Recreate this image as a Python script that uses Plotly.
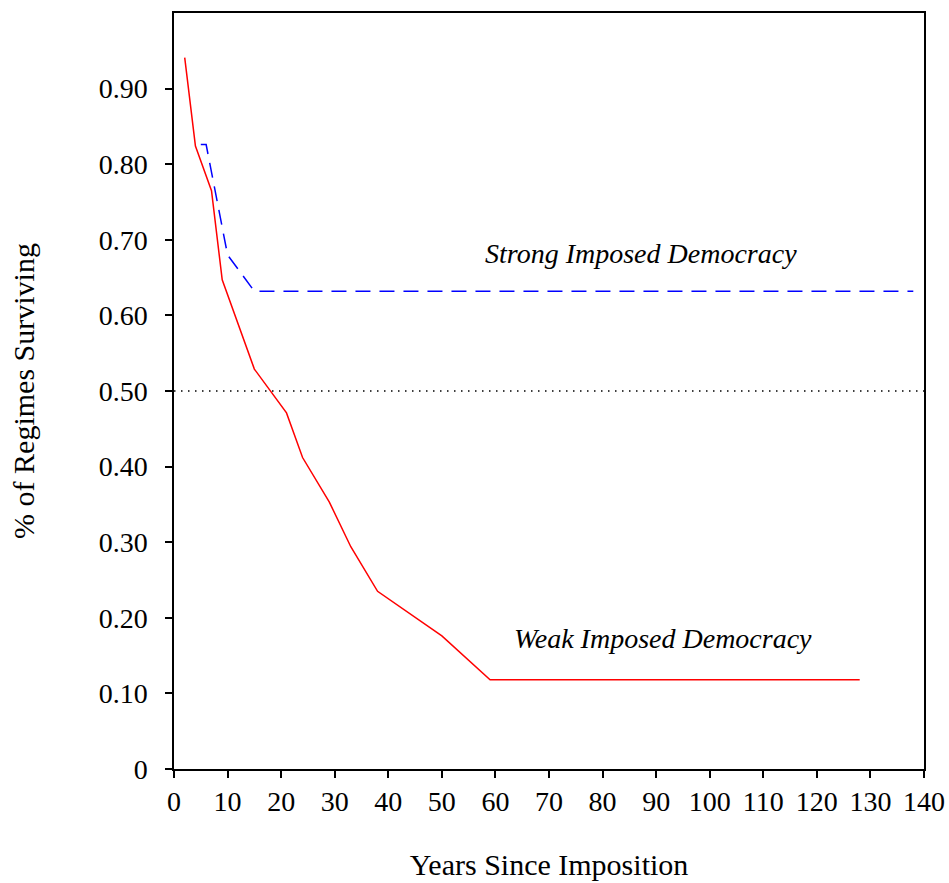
import plotly.graph_objects as go

# Weak imposed democracy survival curve
weak_years = [2, 4, 7, 9, 15, 21, 24, 29, 33, 38, 50, 59, 128]
weak_surv = [0.941, 0.824, 0.765, 0.647, 0.529, 0.471, 0.412, 0.353, 0.294, 0.235, 0.176, 0.118, 0.118]

# Strong imposed democracy survival curve
strong_years = [5, 6, 10, 15, 138]
strong_surv = [0.826, 0.826, 0.680, 0.632, 0.632]

x_ticks = list(range(0, 141, 10))
y_ticks = [0, 0.1, 0.2, 0.3, 0.4, 0.5, 0.6, 0.7, 0.8, 0.9]
y_ticktext = ["0", "0.10", "0.20", "0.30", "0.40", "0.50", "0.60", "0.70", "0.80", "0.90"]

FONT = "Liberation Serif"
TICK_FS = 28
TITLE_FS = 30
ANN_FS = 28

fig = go.Figure()
fig.add_trace(go.Scatter(x=weak_years, y=weak_surv, mode="lines",
                         line=dict(color="#ff0000", width=1.5), showlegend=False))
fig.add_trace(go.Scatter(x=strong_years, y=strong_surv, mode="lines",
                         line=dict(color="#0000ff", width=1.5, dash="15px,9px"), showlegend=False))

fig.add_shape(type="line", x0=0, x1=140, y0=0.5, y1=0.5, xref="x", yref="y",
              line=dict(color="black", width=1.5, dash="1.5px,5.5px"))

fig.add_annotation(x=87.1, y=0.682, text="<i>Strong Imposed Democracy</i>", showarrow=False,
                   font=dict(family=FONT, size=ANN_FS, color="black"))
fig.add_annotation(x=91.2, y=0.173, text="<i>Weak Imposed Democracy</i>", showarrow=False,
                   font=dict(family=FONT, size=ANN_FS, color="black"))

fig.update_layout(
    width=949, height=883,
    margin=dict(l=174, r=25, t=13, b=114),
    paper_bgcolor="white", plot_bgcolor="white",
    font=dict(family=FONT, size=TICK_FS, color="black"),
    xaxis=dict(range=[0, 140], tickvals=x_ticks, ticks="outside", ticklen=7, tickwidth=1.5,
               tickcolor="black", showline=True, linecolor="black", linewidth=1.5, mirror=True,
               showgrid=False, zeroline=False, tickfont=dict(size=TICK_FS), automargin=False,
               title=dict(text="Years Since Imposition", standoff=38, font=dict(size=TITLE_FS))),
    yaxis=dict(range=[0, 1.0], tickvals=y_ticks, ticktext=y_ticktext, ticks="outside", ticklen=7,
               tickwidth=1.5, tickcolor="black", showline=True, linecolor="black", linewidth=1.5,
               mirror=True, showgrid=False, zeroline=False, tickfont=dict(size=TICK_FS),
               ticklabelstandoff=12, automargin=False,
               title=dict(text="% of Regimes Surviving", standoff=55, font=dict(size=TITLE_FS))),
)

fig.write_html("out.html")
